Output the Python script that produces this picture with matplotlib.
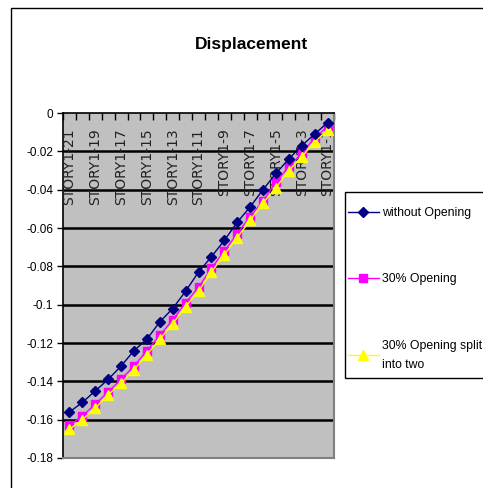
import matplotlib
matplotlib.use("Agg")
import matplotlib.pyplot as plt
from matplotlib import font_manager
from matplotlib.patches import Rectangle
import matplotlib.transforms as mtransforms

# pick a narrow sans face if one is installed
def pick_font():
    for name in ["Liberation Sans Narrow", "Arial Narrow", "Liberation Sans"]:
        try:
            font_manager.findfont(name, fallback_to_default=False)
            return name
        except Exception:
            continue
    return "DejaVu Sans"

FONT = pick_font()
plt.rcParams["font.family"] = [FONT, "DejaVu Sans"]

stories = ["STORY1-%d" % n for n in range(21, 0, -1)]

without_opening = [-0.156, -0.151, -0.145, -0.139, -0.132, -0.124, -0.118,
                   -0.109, -0.102, -0.093, -0.083, -0.075, -0.0665, -0.057,
                   -0.049, -0.040, -0.0315, -0.024, -0.017, -0.011, -0.005]
opening_30 = [-0.163, -0.158, -0.152, -0.1455, -0.139, -0.132, -0.124,
              -0.116, -0.108, -0.099, -0.091, -0.081, -0.072, -0.063,
              -0.054, -0.046, -0.036, -0.028, -0.021, -0.013, -0.007]
opening_30_split = [-0.165, -0.160, -0.154, -0.147, -0.141, -0.134, -0.126,
                    -0.118, -0.110, -0.101, -0.093, -0.083, -0.074, -0.065,
                    -0.056, -0.047, -0.039, -0.030, -0.023, -0.015, -0.009]

y_ticks = [0, -0.02, -0.04, -0.06, -0.08, -0.1, -0.12, -0.14, -0.16, -0.18]
y_tick_labels = ["0", "-0.02", "-0.04", "-0.06", "-0.08", "-0.1", "-0.12",
                 "-0.14", "-0.16", "-0.18"]

W, H = 483, 488
fig = plt.figure(figsize=(W / 100, H / 100), dpi=100)
fig.patch.set_facecolor("white")

# chart-area border
fig.patches.append(Rectangle((11 / W, -0.05), 1.2, 1 - 8 / H + 0.05,
                             transform=fig.transFigure, fill=False,
                             edgecolor="black", linewidth=1.0))

ax = fig.add_axes([63 / W, 30 / H, 271 / W, 345 / H])
ax.set_facecolor("#C0C0C0")

x = list(range(len(stories)))
ax.plot(x, without_opening, color="#000080", marker="D", markersize=5,
        linewidth=1.0, label="without Opening", zorder=5)
ax.plot(x, opening_30, color="#FF00FF", marker="s", markersize=5.5,
        linewidth=1.0, label="30% Opening", zorder=4)
ax.plot(x, opening_30_split, color="#FFFF00", marker="^", markersize=6.5,
        linewidth=1.0, label="30% Opening split\ninto two", zorder=4.5)

ax.set_xlim(-0.5, len(stories) - 0.5)
ax.set_ylim(-0.18, 0)

# horizontal gridlines
for v in y_ticks[1:-1]:
    ax.axhline(v, color="black", linewidth=1.8, zorder=2)

ax.set_yticks(y_ticks)
ax.set_yticklabels(y_tick_labels, fontsize=8.5)
ax.tick_params(axis="y", direction="out", length=4, width=1, pad=3,
               colors="black")

# category axis sits at the top (value 0)
ax.xaxis.set_ticks_position("top")
ax.set_xticks([i - 0.5 for i in range(len(stories) + 1)])
ax.set_xticklabels([])
ax.tick_params(axis="x", direction="in", length=5, width=1, top=True,
               bottom=False, labeltop=False, labelbottom=False)

for name in ["left", "top"]:
    ax.spines[name].set_color("black")
    ax.spines[name].set_linewidth(1.2)
for name in ["right", "bottom"]:
    ax.spines[name].set_color("#808080")
    ax.spines[name].set_linewidth(1.5)

trans = mtransforms.blended_transform_factory(ax.transData, ax.transAxes)
for i, name in enumerate(stories):
    if i % 2 == 0:
        ax.text(i, 1 - 15 / 345, name, rotation=90, ha="center", va="top",
                fontsize=10, color="#222222", transform=trans, zorder=3,
                family="DejaVu Sans")

fig.text(252 / W, 1 - 45 / H, "Displacement", ha="center", va="center",
         fontsize=12.5, fontweight="bold")

# legend frame, running past the right edge
fig.patches.append(Rectangle((345 / W, 1 - 378 / H), 0.5, 186 / H,
                             transform=fig.transFigure, facecolor="white",
                             edgecolor="black", linewidth=1.0, zorder=1))

leg = fig.legend(loc="upper left", bbox_to_anchor=(348 / W, 1 - 207 / H),
                 frameon=False, fontsize=8.8, labelspacing=4.45,
                 handlelength=2.5, handletextpad=0.3, borderpad=0,
                 borderaxespad=0)
for t in leg.get_texts():
    t.set_linespacing(1.75)

fig.savefig("out.png", dpi=100)
